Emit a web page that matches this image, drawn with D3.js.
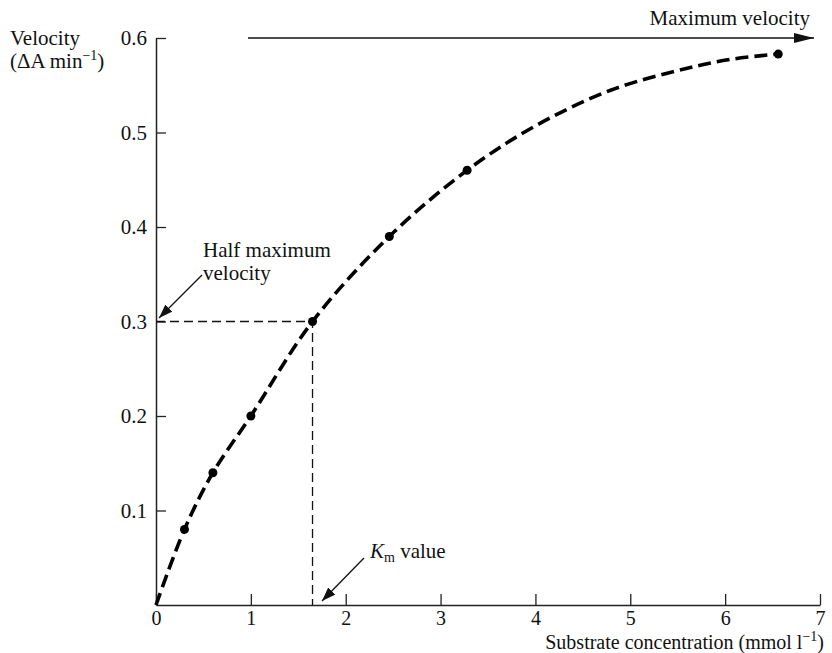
<!DOCTYPE html>
<html>
<head>
<meta charset="utf-8">
<script src="https://cdn.jsdelivr.net/npm/d3@7"></script>
<style>
  html, body { margin: 0; padding: 0; background: #fff; }
  svg text { font-family: "Liberation Serif", "DejaVu Serif", serif; fill: #111; }
</style>
</head>
<body>
<svg id="chart" width="832" height="653"></svg>
<script>
// ---- data ----
const substrate = [0.3, 0.6, 1.0, 1.65, 2.46, 3.28, 6.56];
const velocity  = [0.08, 0.14, 0.20, 0.30, 0.39, 0.46, 0.583];
const curveX = [0, 0.3, 0.6, 1.0, 1.65, 2.46, 3.28, 4.0, 4.8, 5.6, 6.1, 6.56];
const curveY = [0, 0.08, 0.14, 0.20, 0.30, 0.39, 0.46, 0.507, 0.545, 0.568, 0.578, 0.583];
const xTicks = [0, 1, 2, 3, 4, 5, 6, 7];
const yTicks = [0.1, 0.2, 0.3, 0.4, 0.5, 0.6];
const vmax = 0.6;
const halfMax = 0.3;
const km = 1.65;

const svg = d3.select("#chart");
const x = d3.scaleLinear().domain([0, 7]).range([156, 820]);
const y = d3.scaleLinear().domain([0, 0.6]).range([605, 38]);
const FS = 21;

// defs arrow
const defs = svg.append("defs");
defs.append("marker").attr("id", "arrowBig")
  .attr("viewBox", "0 0 20 10").attr("refX", 20).attr("refY", 5)
  .attr("markerWidth", 20).attr("markerHeight", 10)
  .attr("markerUnits", "userSpaceOnUse").attr("orient", "auto")
  .append("path").attr("d", "M0,0 L20,5 L0,10 Z").attr("fill", "#111");
defs.append("marker").attr("id", "arrowSmall")
  .attr("viewBox", "0 0 14 10").attr("refX", 14).attr("refY", 5)
  .attr("markerWidth", 14).attr("markerHeight", 10)
  .attr("markerUnits", "userSpaceOnUse").attr("orient", "auto")
  .append("path").attr("d", "M0,0 L14,5 L0,10 Z").attr("fill", "#111");

// axes
const xAxis = d3.axisBottom(x).tickValues(xTicks).tickFormat(d3.format("d"))
  .tickSizeInner(-11).tickSizeOuter(0).tickPadding(8);
const yAxis = d3.axisLeft(y).tickValues(yTicks).tickFormat(d3.format(".1f"))
  .tickSizeInner(-10).tickSizeOuter(0).tickPadding(9);

const gx = svg.append("g").attr("transform", `translate(0,${y(0)})`).call(xAxis);
const gy = svg.append("g").attr("transform", `translate(${x(0)},0)`).call(yAxis);
[gx, gy].forEach(g => {
  g.selectAll("path.domain").attr("stroke", "#222").attr("stroke-width", 1.5);
  g.selectAll(".tick line").attr("stroke", "#222").attr("stroke-width", 1.3);
  g.selectAll(".tick text").style("font-family", '"Liberation Serif", serif')
    .style("font-size", FS + "px").attr("fill", "#111");
});
gx.selectAll(".tick text").style("font-size", "20px").attr("y", 6);

// half-maximum guide lines
svg.append("path")
  .attr("d", `M${x(0)},${y(halfMax)} H${x(km)} V${y(0)}`)
  .attr("fill", "none").attr("stroke", "#111").attr("stroke-width", 1.3)
  .attr("stroke-dasharray", "9,5");

// dashed curve
const line = d3.line().x(d => x(d[0])).y(d => y(d[1])).curve(d3.curveCatmullRom.alpha(0.5));
svg.append("path")
  .datum(curveX.map((v, i) => [v, curveY[i]]))
  .attr("d", line)
  .attr("fill", "none").attr("stroke", "#000").attr("stroke-width", 3.6)
  .attr("stroke-dasharray", "13,6");

// points
svg.selectAll("circle.pt").data(substrate.map((v, i) => [v, velocity[i]]))
  .enter().append("circle").attr("class", "pt")
  .attr("cx", d => x(d[0])).attr("cy", d => y(d[1])).attr("r", 4.5).attr("fill", "#000");

// maximum velocity arrow
svg.append("line").attr("x1", 248).attr("x2", 814)
  .attr("y1", y(vmax)).attr("y2", y(vmax))
  .attr("stroke", "#111").attr("stroke-width", 1.5).attr("marker-end", "url(#arrowBig)");
svg.append("text").attr("x", 810).attr("y", 25).attr("text-anchor", "end")
  .style("font-size", FS + "px").text("Maximum velocity");

// Y label
svg.append("text").attr("x", 10).attr("y", 45).style("font-size", FS + "px").text("Velocity");
const yl = svg.append("text").attr("x", 10).attr("y", 68).style("font-size", FS + "px");
yl.append("tspan").text("(\u0394A min");
yl.append("tspan").attr("dy", -8).style("font-size", "14px").text("\u22121");
yl.append("tspan").attr("dy", 8).text(")");

// X label
const xl = svg.append("text").attr("x", 824).attr("y", 649).attr("text-anchor", "end")
  .style("font-size", "20px");
xl.append("tspan").text("Substrate concentration (mmol l");
xl.append("tspan").attr("dy", -8).style("font-size", "14px").text("\u22121");
xl.append("tspan").attr("dy", 8).text(")");

// Half maximum annotation
svg.append("text").attr("x", 203).attr("y", 257).style("font-size", FS + "px").text("Half maximum");
svg.append("text").attr("x", 203).attr("y", 280).style("font-size", FS + "px").text("velocity");
svg.append("line").attr("x1", 202).attr("y1", 275).attr("x2", 159).attr("y2", 318)
  .attr("stroke", "#111").attr("stroke-width", 1.3).attr("marker-end", "url(#arrowSmall)");

// Km annotation
const kt = svg.append("text").attr("x", 370).attr("y", 558).style("font-size", FS + "px");
kt.append("tspan").style("font-style", "italic").text("K");
kt.append("tspan").attr("dy", 4).style("font-size", "14px").text("m");
kt.append("tspan").attr("dy", -4).text(" value");
svg.append("line").attr("x1", 364).attr("y1", 558).attr("x2", 322).attr("y2", 601)
  .attr("stroke", "#111").attr("stroke-width", 1.3).attr("marker-end", "url(#arrowSmall)");
</script>
</body>
</html>
